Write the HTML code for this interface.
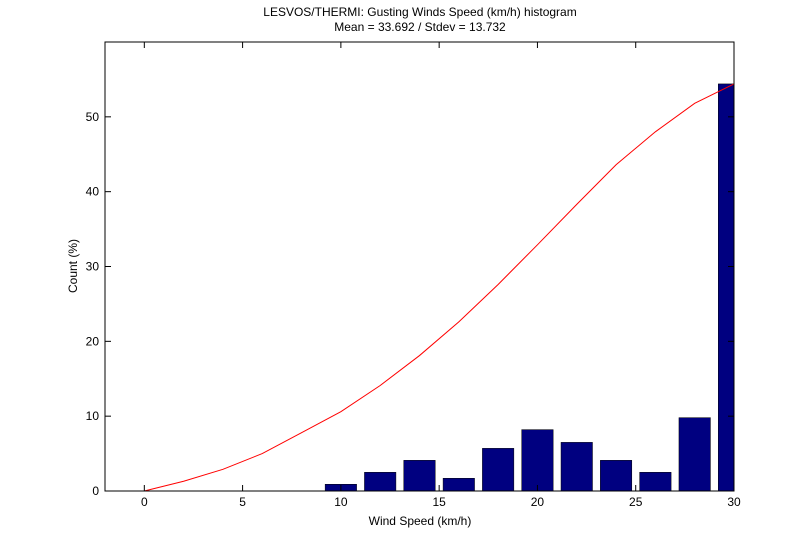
<!DOCTYPE html>
<html><head><meta charset="utf-8"><style>
body{margin:0;background:#fff;width:810px;height:553px;overflow:hidden}
svg{font-family:"Liberation Sans",Arial,sans-serif;font-size:12px}
</style></head><body>
<svg id="chart" width="810" height="553">
<rect width="810" height="553" fill="#fff"/>
<text x="420" y="16" text-anchor="middle">LESVOS/THERMI: Gusting Winds Speed (km/h) histogram</text>
<text x="420" y="31" text-anchor="middle">Mean = 33.692 / Stdev = 13.732</text>
<g id="plot"></g>
<text x="420" y="525" text-anchor="middle">Wind Speed (km/h)</text>
<text transform="translate(77,266) rotate(-90)" text-anchor="middle">Count (%)</text>
</svg>
<script>
const binCenters=[10,12,14,16,18,20,22,24,26,28,30];
const binCounts=[0.9,2.5,4.1,1.7,5.7,8.2,6.5,4.1,2.5,9.8,54.4];
const curveX=[0,2,4,6,8,10,12,14,16,18,20,22,24,26,28,30];
const curveY=[0,1.3,2.9,5.0,7.8,10.6,14.1,18.1,22.6,27.6,32.9,38.3,43.6,48.0,51.8,54.4];
const xTicks=[0,5,10,15,20,25,30];
const yTicks=[0,10,20,30,40,50];
const L=105,R=734,T=42,B=491,xmin=-2,xmax=30,ymin=0,ymax=60;
const sx=v=>L+(v-xmin)/(xmax-xmin)*(R-L);
const sy=v=>B-(v-ymin)/(ymax-ymin)*(B-T);
const NS="http://www.w3.org/2000/svg";
const g=document.getElementById('plot');
function mk(t,a){const e=document.createElementNS(NS,t);for(const k in a)e.setAttribute(k,a[k]);g.appendChild(e);return e;}
const bw=1.6;
binCenters.forEach((c,i)=>{
  const x0=sx(c-bw/2),x1=Math.min(sx(c+bw/2),R);
  const r=mk('rect',{x:x0,y:sy(binCounts[i]),width:x1-x0,height:sy(0)-sy(binCounts[i]),fill:'#000080',stroke:'#000',"stroke-width":0.5});
  
  
});
const pl=mk('polyline',{points:curveX.map((x,i)=>sx(x)+','+sy(curveY[i])).join(' '),fill:'none',stroke:'#f00',"stroke-width":1});


const box=mk('rect',{x:L,y:T,width:R-L,height:B-T,fill:'none',stroke:'#000',"stroke-width":1});


xTicks.forEach(v=>{
  const x=sx(v);
  mk('line',{x1:x,x2:x,y1:B,y2:B-6,stroke:'#000'});
  mk('line',{x1:x,x2:x,y1:T,y2:T+6,stroke:'#000'});
  const t=mk('text',{x:x,y:B+15,"text-anchor":"middle"});t.textContent=v;
  
  
});
yTicks.forEach(v=>{
  const y=sy(v);
  mk('line',{x1:L,x2:L+6,y1:y,y2:y,stroke:'#000'});
  mk('line',{x1:R,x2:R-6,y1:y,y2:y,stroke:'#000'});
  const t=mk('text',{x:L-6,y:y+4,"text-anchor":"end"});t.textContent=v;
  
  
});
</script>
</body></html>
